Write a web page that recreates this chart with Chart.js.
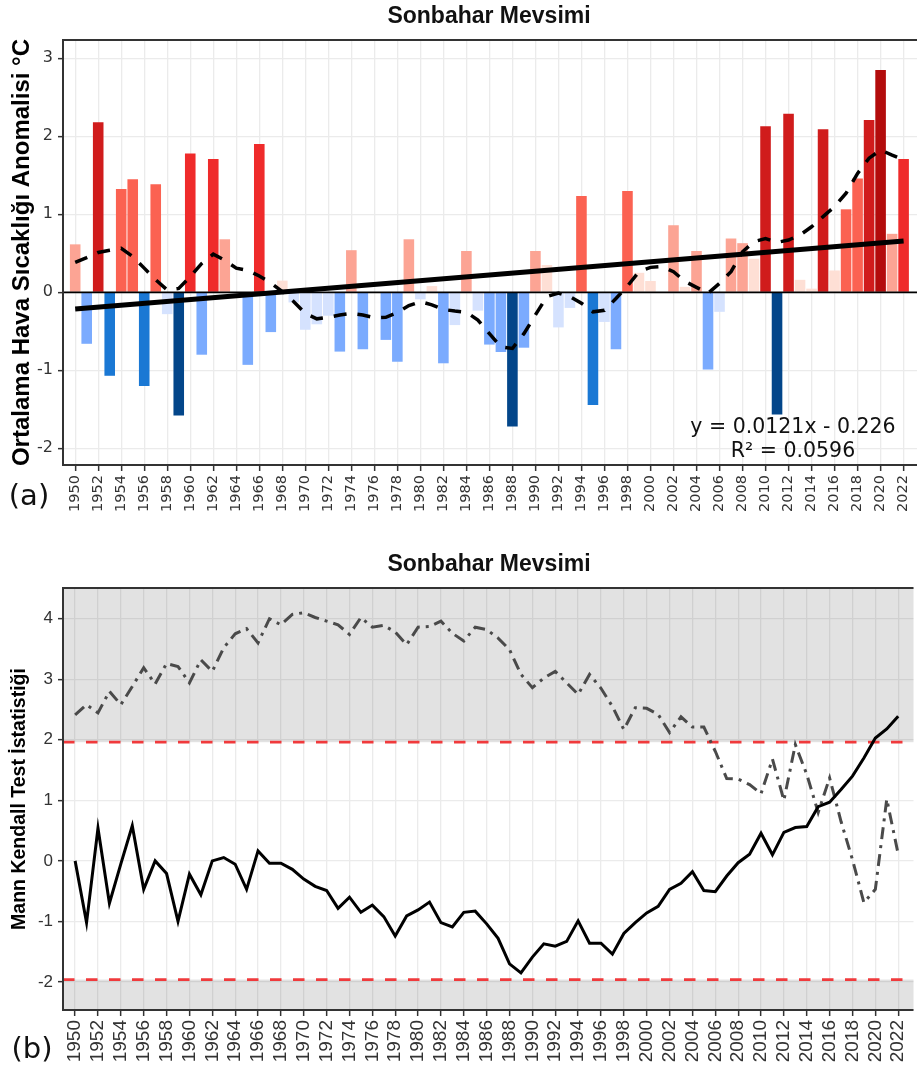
<!DOCTYPE html>
<html>
<head>
<meta charset="utf-8">
<script src="https://cdn.jsdelivr.net/npm/chart.js@4.4.1/dist/chart.umd.min.js"></script>
<style>
  html, body { margin: 0; padding: 0; background: #fff; overflow: hidden; width: 917px; height: 1071px; }
  #panelA { position: absolute; left: 0; top: 0; width: 925px; height: 530px; }
  #panelB { position: absolute; left: 0; top: 530px; width: 925px; height: 541px; }
</style>
</head>
<body>
<div id="panelA"><canvas id="chartA"></canvas></div>
<div id="panelB"><canvas id="chartB"></canvas></div>
<script>
// ---- data -------------------------------------------------------------
const years = [
  1950, 1951, 1952, 1953, 1954, 1955, 1956, 1957, 1958, 1959,
  1960, 1961, 1962, 1963, 1964, 1965, 1966, 1967, 1968, 1969,
  1970, 1971, 1972, 1973, 1974, 1975, 1976, 1977, 1978, 1979,
  1980, 1981, 1982, 1983, 1984, 1985, 1986, 1987, 1988, 1989,
  1990, 1991, 1992, 1993, 1994, 1995, 1996, 1997, 1998, 1999,
  2000, 2001, 2002, 2003, 2004, 2005, 2006, 2007, 2008, 2009,
  2010, 2011, 2012, 2013, 2014, 2015, 2016, 2017, 2018, 2019,
  2020, 2021, 2022
];

const tickYears = [
  1950, 1952, 1954, 1956, 1958, 1960, 1962, 1964, 1966, 1968,
  1970, 1972, 1974, 1976, 1978, 1980, 1982, 1984, 1986, 1988,
  1990, 1992, 1994, 1996, 1998, 2000, 2002, 2004, 2006, 2008,
  2010, 2012, 2014, 2016, 2018, 2020, 2022
];

// autumn mean temperature anomaly (°C)
const anomaly = [
  0.615, -0.66, 2.18, -1.07, 1.325, 1.45, -1.20, 1.385, -0.28, -1.58,
  1.78, -0.80, 1.71, 0.68, 0.0, -0.93, 1.90, -0.51, 0.15, -0.13,
  -0.48, -0.41, -0.30, -0.76, 0.54, -0.73, 0.0, -0.61, -0.89, 0.68,
  -0.09, 0.08, -0.91, -0.42, 0.53, -0.235, -0.67, -0.765, -1.72, -0.71,
  0.53, 0.35, -0.45, -0.20, 1.235, -1.445, -0.38, -0.73, 1.30, 0.25,
  0.145, 0.0, 0.86, 0.07, 0.53, -0.99, -0.25, 0.69, 0.63, 0.43,
  2.13, -1.565, 2.29, 0.16, 0.047, 2.09, 0.28, 1.064, 1.46, 2.21,
  2.85, 0.75, 1.71
];

// smoothed anomaly curve
const smoothed = [
  0.385, 0.445, 0.51, 0.54, 0.565, 0.46, 0.31, 0.16, 0.03, 0.05,
  0.20, 0.37, 0.49, 0.41, 0.31, 0.28, 0.21, 0.12, 0.01, -0.12,
  -0.27, -0.34, -0.32, -0.29, -0.27, -0.29, -0.325, -0.32, -0.26, -0.17,
  -0.12, -0.16, -0.22, -0.24, -0.255, -0.355, -0.53, -0.70, -0.72, -0.53,
  -0.29, -0.055, -0.01, -0.055, -0.14, -0.25, -0.23, -0.08, 0.08, 0.265,
  0.32, 0.33, 0.265, 0.14, 0.064, -0.013, 0.115, 0.265, 0.52, 0.65,
  0.69, 0.64, 0.67, 0.735, 0.84, 0.97, 1.10, 1.27, 1.525, 1.72,
  1.825, 1.76, 1.70
];

// linear trend, x = 1 .. n (year index)
const trendSlope = 0.0121;
const trendIntercept = -0.226;
const trendR2 = 0.0596;

// sequential Mann-Kendall statistics
const ufForward = [
  0.0, -1.02, 0.54, -0.70, -0.05, 0.58, -0.47, 0.0, -0.21, -1.0,
  -0.22, -0.56, 0.0, 0.055, -0.055, -0.47, 0.165, -0.04, -0.04, -0.14,
  -0.30, -0.42, -0.49, -0.785, -0.60, -0.85, -0.73, -0.92, -1.24, -0.91,
  -0.81, -0.68, -1.02, -1.09, -0.85, -0.83, -1.04, -1.28, -1.70, -1.85,
  -1.59, -1.37, -1.41, -1.33, -0.99, -1.36, -1.36, -1.54, -1.20, -1.02,
  -0.86, -0.75, -0.47, -0.37, -0.18, -0.49, -0.51, -0.25, -0.03, 0.11,
  0.456, 0.10, 0.47, 0.55, 0.566, 0.895, 0.97, 1.18, 1.40, 1.70,
  2.03, 2.18, 2.39
];

const ubBackward = [
  2.41, 2.58, 2.445, 2.80, 2.58, 2.88, 3.19, 2.92, 3.26, 3.21,
  2.94, 3.32, 3.13, 3.52, 3.75, 3.835, 3.60, 4.0, 3.90, 4.07,
  4.10, 4.02, 3.96, 3.90, 3.74, 4.02, 3.86, 3.89, 3.78, 3.57,
  3.86, 3.87, 3.96, 3.76, 3.63, 3.86, 3.82, 3.68, 3.49, 3.08,
  2.86, 3.02, 3.13, 2.94, 2.75, 3.08, 2.85, 2.55, 2.17, 2.53,
  2.52, 2.42, 2.12, 2.38, 2.21, 2.21, 1.81, 1.36, 1.35, 1.26,
  1.11, 1.68, 1.00, 1.92, 1.43, 0.80, 1.37, 0.65, 0.02, -0.69,
  -0.47, 1.02, 0.11
];

const criticalZ = 1.96;

const panelTitle = 'Sonbahar Mevsimi';
const yTitleA = 'Ortalama Hava Sıcaklığı Anomalisi °C';
const yTitleB = 'Mann Kendall Test İstatistiği';

// ---- layout / style ---------------------------------------------------
const X_MIN = 1948.94;
const X_MAX = 2023.34;
const GRID = '#ebebeb';
const AXIS = '#333333';

function barColor(v) {
  if (v >= 2.5) return '#b30c0c';
  if (v >= 2.0) return '#d01c1c';
  if (v >= 1.5) return '#ef2b2b';
  if (v >= 1.0) return '#fb6252';
  if (v >= 0.5) return '#fca494';
  if (v >= 0.0) return '#fedfd5';
  if (v > -0.5) return '#d5e2fe';
  if (v > -1.0) return '#7babfe';
  if (v > -1.5) return '#1a78d4';
  return '#03468a';
}

const pts = arr => arr.map((v, i) => ({ x: years[i], y: v }));
const nYears = years.length;
const trendPts = [
  { x: years[0], y: trendSlope * 1 + trendIntercept },
  { x: years[nYears - 1], y: trendSlope * nYears + trendIntercept }
];
const hLine = v => [{ x: X_MIN, y: v }, { x: X_MAX, y: v }];

function xScale(height, fontFamily, fontSize) {
  return {
    type: 'linear', min: X_MIN, max: X_MAX, offset: false,
    afterFit(s) { s.height = height; },
    grid: { offset: false, color: GRID, lineWidth: 1.3, tickColor: AXIS, tickLength: 6, tickWidth: 1.5 },
    border: { display: false },
    ticks: {
      stepSize: 2, includeBounds: false, autoSkip: false,
      minRotation: 90, maxRotation: 90, padding: 4,
      font: { family: fontFamily, size: fontSize }, color: '#333',
      callback: v => tickYears.includes(v) ? String(v) : ''
    }
  };
}

function yScale(min, max, fontFamily, fontSize, title, titleSize) {
  return {
    min, max,
    afterFit(s) { s.width = 63; },
    grid: { color: GRID, lineWidth: 1.3, tickColor: AXIS, tickLength: 5, tickWidth: 1.5 },
    border: { display: false },
    ticks: {
      stepSize: 1, includeBounds: false, padding: 5,
      font: { family: fontFamily, size: fontSize }, color: '#333',
      callback: v => String(v)
    },
    title: {
      display: true, text: title, color: '#000',
      font: { family: 'Liberation Sans', weight: 'bold', size: titleSize },
      padding: { top: 8, bottom: 0 }
    }
  };
}

function drawFrame(ctx, a) {
  ctx.save();
  ctx.strokeStyle = AXIS;
  ctx.lineWidth = 2;
  ctx.beginPath();
  ctx.moveTo(a.left - 1, a.top); ctx.lineTo(a.right, a.top);
  ctx.moveTo(a.left, a.top); ctx.lineTo(a.left, a.bottom + 1);
  ctx.moveTo(a.left - 1, a.bottom); ctx.lineTo(a.right, a.bottom);
  ctx.stroke();
  ctx.restore();
}

function drawText(ctx, text, x, y, font, align) {
  ctx.save();
  ctx.fillStyle = '#111';
  ctx.font = font;
  ctx.textAlign = align || 'center';
  ctx.textBaseline = 'middle';
  ctx.fillText(text, x, y);
  ctx.restore();
}

Chart.defaults.font.family = 'Liberation Sans';

// ---- panel (a): anomalies --------------------------------------------
const decorA = {
  id: 'decorA',
  afterDraw(chart) {
    const { ctx, chartArea: a } = chart;
    drawFrame(ctx, a);
    drawText(ctx, panelTitle, 489, 17, 'bold 23px "Liberation Sans", Arial, sans-serif');
    drawText(ctx, '(a)', 29, 497, '29px "DejaVu Sans", sans-serif');
    const eq = 'y = ' + trendSlope + 'x - ' + Math.abs(trendIntercept);
    drawText(ctx, eq, 793, 428, '20.5px "DejaVu Sans", sans-serif');
    drawText(ctx, 'R² = ' + trendR2, 793, 452, '20.5px "DejaVu Sans", sans-serif');
  }
};

new Chart(document.getElementById('chartA'), {
  type: 'bar',
  data: {
    datasets: [
      { type: 'line', label: 'Trend', data: trendPts, borderColor: '#000', borderWidth: 5,
        pointRadius: 0, order: 0 },
      { type: 'line', label: 'Smoothed', data: pts(smoothed), borderColor: '#000', borderWidth: 3.5,
        borderDash: [13, 11], pointRadius: 0, order: 1 },
      { type: 'line', label: 'Zero', data: hLine(0), borderColor: '#000', borderWidth: 1.8,
        pointRadius: 0, order: 2 },
      { type: 'bar', label: 'Anomaly', data: pts(anomaly), backgroundColor: anomaly.map(barColor),
        categoryPercentage: 1, barPercentage: 0.92, order: 3 }
    ]
  },
  options: {
    responsive: true, maintainAspectRatio: false, animation: false, devicePixelRatio: 1,
    layout: { padding: { top: 40, left: 0, right: 0, bottom: 0 } },
    plugins: { legend: { display: false }, tooltip: { enabled: false } },
    scales: {
      x: xScale(65, 'DejaVu Sans', 14.5),
      y: yScale(-2.214, 3.235, 'DejaVu Sans', 16, yTitleA, 24)
    }
  },
  plugins: [decorA]
});

// ---- panel (b): Mann-Kendall -----------------------------------------
const decorB = {
  id: 'decorB',
  beforeDatasetsDraw(chart) {
    const { ctx, chartArea: a, scales: { y } } = chart;
    const yHi = y.getPixelForValue(criticalZ);
    const yLo = y.getPixelForValue(-criticalZ);
    ctx.save();
    ctx.fillStyle = 'rgba(0,0,0,0.115)';
    ctx.fillRect(a.left, a.top, a.right - a.left, yHi - a.top);
    ctx.fillRect(a.left, yLo, a.right - a.left, a.bottom - yLo);
    ctx.restore();
  },
  afterDraw(chart) {
    const { ctx, chartArea: a } = chart;
    drawFrame(ctx, a);
    drawText(ctx, panelTitle, 489, 35, 'bold 23px "Liberation Sans", Arial, sans-serif');
    drawText(ctx, '(b)', 32, 520, '29px "DejaVu Sans", sans-serif');
  }
};

new Chart(document.getElementById('chartB'), {
  type: 'line',
  data: {
    datasets: [
      { label: 'UF', data: pts(ufForward), borderColor: '#000', borderWidth: 3,
        pointRadius: 0, order: 0 },
      { label: 'UB', data: pts(ubBackward), borderColor: '#4a4a4a', borderWidth: 3,
        borderDash: [12, 6, 3, 6], pointRadius: 0, order: 1 },
      { label: 'Upper limit', data: hLine(criticalZ), borderColor: '#f03a3c', borderWidth: 2.7,
        borderDash: [11.5, 11.5], pointRadius: 0, order: 2 },
      { label: 'Lower limit', data: hLine(-criticalZ), borderColor: '#f03a3c', borderWidth: 2.7,
        borderDash: [11.5, 11.5], pointRadius: 0, order: 2 }
    ]
  },
  options: {
    responsive: true, maintainAspectRatio: false, animation: false, devicePixelRatio: 1,
    layout: { padding: { top: 58, left: 0, right: 0, bottom: 0 } },
    plugins: { legend: { display: false }, tooltip: { enabled: false } },
    scales: {
      x: xScale(61, 'Liberation Sans', 19),
      y: yScale(-2.463, 4.507, 'Liberation Sans', 17, yTitleB, 19.5)
    }
  },
  plugins: [decorB]
});
</script>
</body>
</html>
